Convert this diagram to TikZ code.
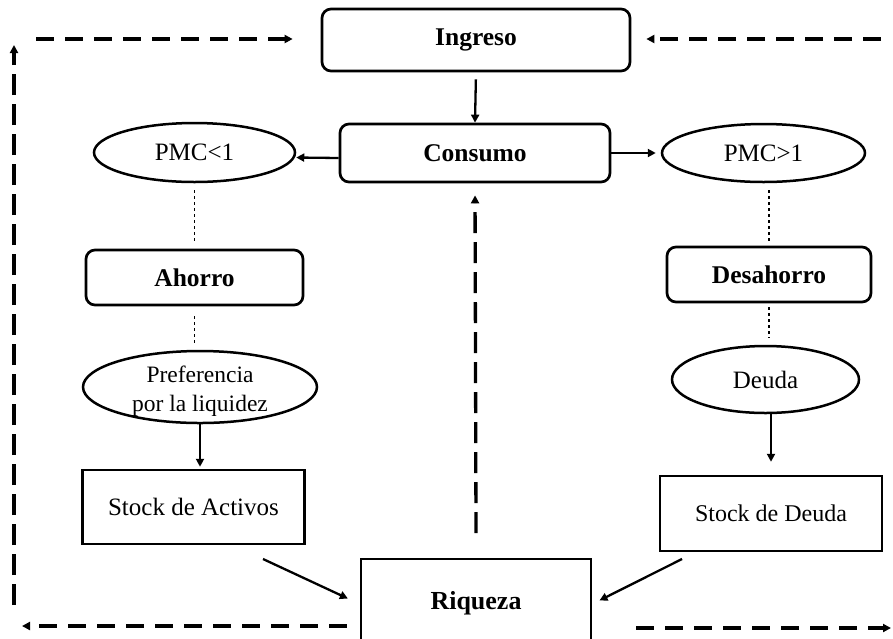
\documentclass[tikz,border=0pt]{standalone}
\usepackage{fontspec}
\setmainfont{Liberation Serif}
\usetikzlibrary{arrows.meta,shapes.geometric}
\begin{document}
\begin{tikzpicture}[x=1pt,y=-1pt,
  rbox/.style={draw, line width=2.7pt, rounded corners=9pt, inner sep=0pt,
    font=\fontsize{25.5}{28}\selectfont\bfseries},
  sbox/.style={draw, line width=2.5pt, inner sep=0pt,
    font=\fontsize{25}{28}\selectfont},
  ell/.style={draw, ellipse, line width=2.5pt, inner sep=0pt,
    font=\fontsize{25}{28}\selectfont},
  arr/.style={line width=2.3pt, -{Triangle[length=8pt,width=8pt]}},
  dotl/.style={line width=1.1pt, dash pattern=on 3pt off 3pt},
  hdash/.style={line width=3.3pt, dash pattern=on 18pt off 11pt, -{Triangle[length=8pt,width=8pt]}},
  vdash/.style={line width=3.3pt, dash pattern=on 21pt off 9pt, -{Triangle[length=8pt,width=8pt]}}
]
\useasboundingbox (0,0) rectangle (893,638);

% nodes
\node[rbox, minimum width=308, minimum height=62] (ing) at (476,40) {Ingreso};
\node[rbox, minimum width=270, minimum height=58] (cons) at (475,153) {Consumo};
\node[ell, minimum width=201, minimum height=59] (pmcl) at (194.5,152.5) {PMC<1};
\node[ell, minimum width=203, minimum height=58] (pmcr) at (763.5,153) {PMC>1};
\node[rbox, minimum width=217, minimum height=55] (aho) at (194.5,277.5) {Ahorro};
\node[rbox, minimum width=204, minimum height=55] (des) at (769,274.5) {Desahorro};
\node[ell, minimum width=234, minimum height=72] (pref) at (200,387) {};
\node[anchor=base, inner sep=0pt, font=\fontsize{23.5}{28}\selectfont] (pref1) at (200,382) {Preferencia};
\node[anchor=base, inner sep=0pt, font=\fontsize{23.5}{28}\selectfont] (pref2) at (200,411) {por la liquidez};
\node[ell, minimum width=187, minimum height=67] (deu) at (765.5,379.5) {Deuda};
\node[sbox, minimum width=222, minimum height=74] (act) at (193.5,507) {Stock de Activos};
\node[sbox, minimum width=222, minimum height=75, font=\fontsize{24}{28}\selectfont] (sdeu) at (771,513.5) {Stock de Deuda};
\node[sbox, minimum width=230, minimum height=88, line width=2.7pt,
  font=\fontsize{26}{28}\selectfont\bfseries] (riq) at (476,603) {Riqueza};

% solid arrows
\draw[arr, shorten <=7pt] (ing.south) -- (cons.north);
\draw[arr] ([yshift=-5pt]cons.west) -- ([yshift=-5pt]pmcl.east);
\draw[arr, shorten >=5pt] (cons.east) -- (pmcr.west);
\draw[arr, shorten >=2pt] (pref.south) -- (pref.south |- act.north);
\draw[arr, shorten >=13pt] (sdeu.north |- deu.south) -- (sdeu.north);

\coordinate (a1) at (263,559);
\coordinate (d1) at (682,559);
\draw[arr, shorten >=13pt] (a1) -- ([yshift=-1pt]riq.west);
\draw[arr, shorten >=8pt] (d1) -- ([yshift=-1pt]riq.east);

% dotted links
\draw[dotl, shorten <=7pt, shorten >=8pt] (pmcl.south) -- (aho.north);
\draw[dotl, shorten <=10pt, shorten >=5pt] (aho.south) -- (aho.south |- pref.north);
\draw[dotl, shorten <=7pt, shorten >=5pt] (pmcr.south -| des.north) -- (des.north);
\draw[dotl, shorten <=4pt, shorten >=7pt] (des.south) -- (des.south |- deu.north);

% dashed feedback
\coordinate (m1) at (476,533);
\draw[vdash, shorten >=12pt] (m1) -- (cons.south);
\coordinate (tl) at (36,39);
\draw[hdash, shorten >=28pt] (tl) -- (ing.west |- tl);
\coordinate (tr) at (881,39);
\draw[hdash, shorten >=15pt] (tr) -- (ing.east |- tr);
\coordinate (bl) at (22,626);
\draw[hdash, shorten <=13pt] (riq.west |- bl) -- (bl);
\coordinate (br) at (891,628);
\draw[hdash, shorten <=44pt] (riq.east |- br) -- (br);
\coordinate (lb) at (14,605);
\coordinate (lt) at (14,45);
\draw[vdash] (lb) -- (lt);
\end{tikzpicture}
\end{document}
